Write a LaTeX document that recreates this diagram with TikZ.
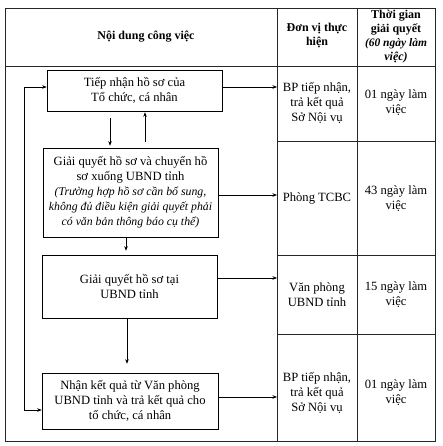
\documentclass[tikz,border=0pt]{standalone}
\usepackage{fontspec}
\setmainfont{Liberation Serif}
\usetikzlibrary{arrows.meta}
\newcommand{\smit}[1]{{\fontsize{11.8}{15}\selectfont\itshape #1}}
\begin{document}
\begin{tikzpicture}[x=1pt,y=-1pt,
  grid/.style={draw=black!85, line width=0.6pt},
  flowbox/.style={draw, line width=0.6pt, rectangle, align=center, inner sep=0pt, font=\fontsize{12.6}{15}\selectfont},
  celltext/.style={align=center, inner sep=0pt, font=\fontsize{12.6}{15}\selectfont},
  head/.style={align=center, inner sep=0pt, font=\bfseries\fontsize{12}{14}\selectfont},
  conn/.style={line width=0.5pt, -{Stealth[length=4.5pt,width=3.5pt]}},
  conn2/.style={line width=0.5pt, {Stealth[length=4.5pt,width=3.5pt]}-{Stealth[length=4.5pt,width=3.5pt]}}]
\useasboundingbox (0,0) rectangle (442,446);
% table grid
\draw[grid] (5,8) rectangle (435,441);
\draw[grid] (5,66) -- (435,66);
\draw[grid] (277,8) -- (277,441);
\draw[grid] (357,8) -- (357,441);
\draw[grid] (277,141) -- (435,141);
\draw[grid] (277,255) -- (435,255);
\draw[grid] (277,334) -- (435,334);
% header
\node[head] (h1) at (146,37) {Nội dung công việc};
\node[head] (h2) at (317,36) {Đơn vị thực\\hiện};
\node[head] (h3) at (396,36.5) {Thời gian\\giải quyết\\{\fontsize{11.5}{14}\selectfont\textit{(60 ngày làm}}\\\textit{việc)}};
% flow boxes
\node[flowbox, minimum width=175pt, minimum height=41pt] (box1) at (134.5,90.5) {Tiếp nhận hồ sơ của\\Tổ chức, cá nhân};
\node[flowbox, minimum width=175pt, minimum height=89pt] (box2) at (130.5,192.5) {Giải quyết hồ sơ và chuyển hồ\\sơ xuống UBND tỉnh\\\smit{(Trường hợp hồ sơ cần bổ sung,}\\\smit{không đủ điều kiện giải quyết phải}\\\smit{có văn bản thông báo cụ thể)}};
\node[flowbox, minimum width=175pt, minimum height=63pt] (box3) at (129.5,286.5) {Giải quyết hồ sơ tại\\UBND tỉnh};
\node[flowbox, minimum width=176pt, minimum height=56pt] (box4) at (130,401) {Nhận kết quả từ Văn phòng\\UBND tỉnh và trả kết quả cho\\tổ chức, cá nhân};
% cells
\node[celltext] (c1a) at (317,103) {BP tiếp nhận,\\trả kết quả\\Sở Nội vụ};
\node[celltext] (c1b) at (396,103) {01 ngày làm\\việc};
\node[celltext] (c2a) at (317,198) {Phòng TCBC};
\node[celltext] (c2b) at (396,199) {43 ngày làm\\việc};
\node[celltext] (c3a) at (317,295) {Văn phòng\\UBND tỉnh};
\node[celltext] (c3b) at (396,295) {15 ngày làm\\việc};
\node[celltext] (c4a) at (317,393) {BP tiếp nhận,\\trả kết quả\\Sở Nội vụ};
\node[celltext] (c4b) at (396,393) {01 ngày làm\\việc};
% coordinates
\coordinate (d1) at (110,0);
\coordinate (u1) at (145,0);
\coordinate (d2) at (126,0);
\coordinate (d3) at (127,0);
\coordinate (r1) at (277,87);
\coordinate (r2) at (277,195);
\coordinate (r3) at (277,278);
\coordinate (r4) at (277,397);
\coordinate (fbT) at (24,87);
\coordinate (fbB) at (24,410);
% vertical arrows
\draw[conn, shorten <=7pt, shorten >=2pt] (d1 |- box1.south) -- (d1 |- box2.north);
\draw[conn, shorten <=6pt, shorten >=1pt] (u1 |- box2.north) -- (u1 |- box1.south);
\draw[conn, shorten >=4pt] (d2 |- box2.south) -- (d2 |- box3.north);
\draw[conn, shorten >=9pt] (d3 |- box3.south) -- (d3 |- box4.north);
% horizontal arrows
\draw[conn] (box1.east |- r1) -- (r1);
\draw[conn] (box2.east |- r2) -- (r2);
\draw[conn] (box3.east |- r3) -- (r3);
\draw[conn] (box4.east |- r4) -- (r4);
% feedback loop
\draw[conn2] (box1.west |- fbT) -- (fbT) -- (fbB) -- (box4.west |- fbB);
\end{tikzpicture}
\end{document}
